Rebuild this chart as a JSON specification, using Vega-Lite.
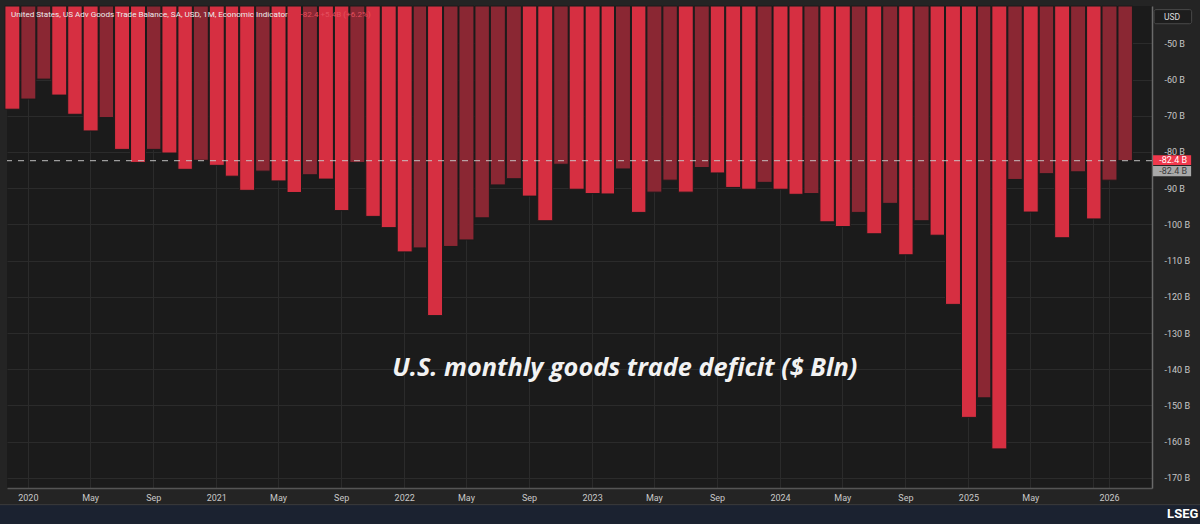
{
  "$schema": "https://vega.github.io/schema/vega-lite/v6.json",
  "width": 1145,
  "height": 482,
  "autosize": {"type": "none"},
  "padding": {"left": 7, "top": 6, "right": 48, "bottom": 36},
  "background": "#242424",
  "config": {
    "view": {"fill": "#1b1b1b", "stroke": null},
    "font": "Roboto"
  },
  "datasets": {
    "trade": [
      {"month": "2019-12-01", "value": -68.2, "dir": "wider"},
      {"month": "2020-01-01", "value": -65.4, "dir": "narrower"},
      {"month": "2020-02-01", "value": -59.9, "dir": "narrower"},
      {"month": "2020-03-01", "value": -64.3, "dir": "wider"},
      {"month": "2020-04-01", "value": -69.6, "dir": "wider"},
      {"month": "2020-05-01", "value": -74.2, "dir": "wider"},
      {"month": "2020-06-01", "value": -70.5, "dir": "narrower"},
      {"month": "2020-07-01", "value": -79.3, "dir": "wider"},
      {"month": "2020-08-01", "value": -82.9, "dir": "wider"},
      {"month": "2020-09-01", "value": -79.3, "dir": "narrower"},
      {"month": "2020-10-01", "value": -80.3, "dir": "wider"},
      {"month": "2020-11-01", "value": -84.8, "dir": "wider"},
      {"month": "2020-12-01", "value": -82.3, "dir": "narrower"},
      {"month": "2021-01-01", "value": -83.7, "dir": "wider"},
      {"month": "2021-02-01", "value": -86.7, "dir": "wider"},
      {"month": "2021-03-01", "value": -90.6, "dir": "wider"},
      {"month": "2021-04-01", "value": -85.3, "dir": "narrower"},
      {"month": "2021-05-01", "value": -88.0, "dir": "wider"},
      {"month": "2021-06-01", "value": -91.2, "dir": "wider"},
      {"month": "2021-07-01", "value": -86.3, "dir": "narrower"},
      {"month": "2021-08-01", "value": -87.5, "dir": "wider"},
      {"month": "2021-09-01", "value": -96.2, "dir": "wider"},
      {"month": "2021-10-01", "value": -82.9, "dir": "narrower"},
      {"month": "2021-11-01", "value": -97.8, "dir": "wider"},
      {"month": "2021-12-01", "value": -100.9, "dir": "wider"},
      {"month": "2022-01-01", "value": -107.6, "dir": "wider"},
      {"month": "2022-02-01", "value": -106.5, "dir": "narrower"},
      {"month": "2022-03-01", "value": -125.2, "dir": "wider"},
      {"month": "2022-04-01", "value": -106.1, "dir": "narrower"},
      {"month": "2022-05-01", "value": -104.3, "dir": "narrower"},
      {"month": "2022-06-01", "value": -98.2, "dir": "narrower"},
      {"month": "2022-07-01", "value": -89.1, "dir": "narrower"},
      {"month": "2022-08-01", "value": -87.4, "dir": "narrower"},
      {"month": "2022-09-01", "value": -92.2, "dir": "wider"},
      {"month": "2022-10-01", "value": -99.0, "dir": "wider"},
      {"month": "2022-11-01", "value": -83.4, "dir": "narrower"},
      {"month": "2022-12-01", "value": -90.3, "dir": "wider"},
      {"month": "2023-01-01", "value": -91.5, "dir": "wider"},
      {"month": "2023-02-01", "value": -91.6, "dir": "wider"},
      {"month": "2023-03-01", "value": -84.7, "dir": "narrower"},
      {"month": "2023-04-01", "value": -96.7, "dir": "wider"},
      {"month": "2023-05-01", "value": -91.1, "dir": "narrower"},
      {"month": "2023-06-01", "value": -87.8, "dir": "narrower"},
      {"month": "2023-07-01", "value": -91.1, "dir": "wider"},
      {"month": "2023-08-01", "value": -84.3, "dir": "narrower"},
      {"month": "2023-09-01", "value": -85.8, "dir": "wider"},
      {"month": "2023-10-01", "value": -89.8, "dir": "wider"},
      {"month": "2023-11-01", "value": -90.3, "dir": "wider"},
      {"month": "2023-12-01", "value": -88.4, "dir": "narrower"},
      {"month": "2024-01-01", "value": -90.3, "dir": "wider"},
      {"month": "2024-02-01", "value": -91.7, "dir": "wider"},
      {"month": "2024-03-01", "value": -91.5, "dir": "narrower"},
      {"month": "2024-04-01", "value": -99.3, "dir": "wider"},
      {"month": "2024-05-01", "value": -100.6, "dir": "wider"},
      {"month": "2024-06-01", "value": -96.7, "dir": "narrower"},
      {"month": "2024-07-01", "value": -102.6, "dir": "wider"},
      {"month": "2024-08-01", "value": -94.2, "dir": "narrower"},
      {"month": "2024-09-01", "value": -108.4, "dir": "wider"},
      {"month": "2024-10-01", "value": -99.0, "dir": "narrower"},
      {"month": "2024-11-01", "value": -103.0, "dir": "wider"},
      {"month": "2024-12-01", "value": -122.1, "dir": "wider"},
      {"month": "2025-01-01", "value": -153.3, "dir": "wider"},
      {"month": "2025-02-01", "value": -147.9, "dir": "narrower"},
      {"month": "2025-03-01", "value": -162.0, "dir": "wider"},
      {"month": "2025-04-01", "value": -87.6, "dir": "narrower"},
      {"month": "2025-05-01", "value": -96.6, "dir": "wider"},
      {"month": "2025-06-01", "value": -86.0, "dir": "narrower"},
      {"month": "2025-07-01", "value": -103.7, "dir": "wider"},
      {"month": "2025-08-01", "value": -85.5, "dir": "narrower"},
      {"month": "2025-09-01", "value": -98.5, "dir": "wider"},
      {"month": "2025-10-01", "value": -87.8, "dir": "narrower"},
      {"month": "2025-11-01", "value": -82.4, "dir": "narrower"}
    ],
    "level": [{"value": -82.4}],
    "lastbox": [{"start": "2026-01-10", "end": "2026-03-25", "lo": -83.6, "hi": -80.9}],
    "prevbox": [{"start": "2026-01-10", "end": "2026-03-25", "lo": -86.7, "hi": -83.9}],
    "lastlabel": [{"at": "2026-02-18", "value": -82.25, "label": "-82.4 B"}],
    "prevlabel": [{"at": "2026-02-18", "value": -85.3, "label": "-82.4 B"}],
    "unitbox": [{"start": "2026-01-12", "end": "2026-03-26", "lo": -44.6, "hi": -40.7}],
    "unitlabel": [{"at": "2026-02-16", "value": -42.65, "label": "USD"}],
    "footer": [{"start": "2019-11-15", "end": "2026-04-20", "lo": -184.0, "hi": -177.4}],
    "brand": [{"at": "2026-04-08", "value": -180.1, "label": "LSEG"}],
    "seriesname": [{"at": "2019-12-15", "value": -42.3, "label": "United States, US Adv Goods Trade Balance, SA, USD, 1M, Economic Indicator"}],
    "seriesvalue": [{"at": "2021-06-29", "value": -42.3, "label": "-82.4  +5.4B (+6.2%)"}],
    "note": [{"at": "2023-03-21", "value": -139.7, "label": "U.S. monthly goods trade deficit ($ Bln)"}]
  },
  "layer": [
    {
      "data": {"name": "trade"},
      "mark": {"type": "bar", "stroke": "#1b1b1b", "strokeWidth": 1},
      "encoding": {
        "x": {
          "field": "month",
          "type": "temporal",
          "timeUnit": "utcyearmonth",
          "scale": {
            "type": "utc",
            "domain": [
              {"year": 2019, "month": 12, "date": 7, "utc": true},
              {"year": 2026, "month": 1, "date": 8, "utc": true}
            ]
          },
          "axis": {
            "title": null,
            "values": [
              {"year": 2020, "month": 1, "date": 16, "hours": 12, "utc": true},
              {"year": 2020, "month": 5, "date": 16, "hours": 12, "utc": true},
              {"year": 2020, "month": 9, "date": 16, "utc": true},
              {"year": 2021, "month": 1, "date": 16, "hours": 12, "utc": true},
              {"year": 2021, "month": 5, "date": 16, "hours": 12, "utc": true},
              {"year": 2021, "month": 9, "date": 16, "utc": true},
              {"year": 2022, "month": 1, "date": 16, "hours": 12, "utc": true},
              {"year": 2022, "month": 5, "date": 16, "hours": 12, "utc": true},
              {"year": 2022, "month": 9, "date": 16, "utc": true},
              {"year": 2023, "month": 1, "date": 16, "hours": 12, "utc": true},
              {"year": 2023, "month": 5, "date": 16, "hours": 12, "utc": true},
              {"year": 2023, "month": 9, "date": 16, "utc": true},
              {"year": 2024, "month": 1, "date": 16, "hours": 12, "utc": true},
              {"year": 2024, "month": 5, "date": 16, "hours": 12, "utc": true},
              {"year": 2024, "month": 9, "date": 16, "utc": true},
              {"year": 2025, "month": 1, "date": 16, "hours": 12, "utc": true},
              {"year": 2025, "month": 5, "date": 16, "hours": 12, "utc": true},
              {"year": 2025, "month": 9, "date": 16, "utc": true},
              {"year": 2025, "month": 10, "date": 16, "hours": 12, "utc": true}
            ],
            "labelExpr": "utcmonth(datum.value) == 0 ? utcFormat(datum.value, '%Y') : (utcmonth(datum.value) == 9 ? '2026' : ((utcmonth(datum.value) == 8 && utcyear(datum.value) == 2025) ? '' : utcFormat(datum.value, '%b')))",
            "grid": true,
            "gridColor": "#2b2b2b",
            "gridWidth": 1,
            "ticks": false,
            "domainColor": "#555555",
            "domainWidth": 1.5,
            "labelColor": "#c8c8c8",
            "labelFont": "Roboto",
            "labelFontSize": 9,
            "labelPadding": 5,
            "labelOverlap": false,
            "labelFlush": false
          }
        },
        "y": {
          "field": "value",
          "type": "quantitative",
          "scale": {"domain": [-172.8, -39.7], "nice": false, "zero": false},
          "axis": {
            "orient": "right",
            "title": null,
            "values": [-50, -60, -70, -80, -90, -100, -110, -120, -130, -140, -150, -160, -170],
            "labelExpr": "datum.value + ' B'",
            "grid": true,
            "gridColor": "#2b2b2b",
            "ticks": false,
            "domainColor": "#6a6a6a",
            "domainWidth": 1.5,
            "labelColor": "#c8c8c8",
            "labelFont": "Roboto",
            "labelFontSize": 9,
            "labelPadding": 12
          }
        },
        "y2": {"datum": -39.7},
        "color": {
          "field": "dir",
          "type": "nominal",
          "scale": {"domain": ["wider", "narrower"], "range": ["#d62f41", "#8a2733"]},
          "legend": null
        }
      }
    },
    {
      "data": {"name": "level"},
      "mark": {"type": "rule", "color": "#c9c9c9", "opacity": 0.75, "strokeDash": [6, 6], "strokeWidth": 1.3},
      "encoding": {"y": {"field": "value", "type": "quantitative"}}
    },
    {
      "data": {"name": "seriesname"},
      "mark": {"type": "text", "align": "left", "baseline": "middle", "font": "Roboto", "fontSize": 8.1, "color": "#ececec"},
      "encoding": {
        "x": {"field": "at", "type": "temporal"},
        "y": {"field": "value", "type": "quantitative"},
        "text": {"field": "label"}
      }
    },
    {
      "data": {"name": "seriesvalue"},
      "mark": {"type": "text", "align": "left", "baseline": "middle", "font": "Roboto", "fontSize": 8.1, "color": "#e4505f"},
      "encoding": {
        "x": {"field": "at", "type": "temporal"},
        "y": {"field": "value", "type": "quantitative"},
        "text": {"field": "label"}
      }
    },
    {
      "data": {"name": "note"},
      "mark": {"type": "text", "align": "center", "baseline": "middle", "font": "Open Sans", "fontSize": 25.3, "fontWeight": "bold", "fontStyle": "italic", "color": "#f2f2f2"},
      "encoding": {
        "x": {"field": "at", "type": "temporal"},
        "y": {"field": "value", "type": "quantitative"},
        "text": {"field": "label"}
      }
    },
    {
      "data": {"name": "unitbox"},
      "mark": {"type": "rect", "fill": "#1d1d1d", "stroke": "#4a4a4a", "strokeWidth": 1, "cornerRadius": 2},
      "encoding": {
        "x": {"field": "start", "type": "temporal"},
        "x2": {"field": "end"},
        "y": {"field": "lo", "type": "quantitative"},
        "y2": {"field": "hi"}
      }
    },
    {
      "data": {"name": "unitlabel"},
      "mark": {"type": "text", "align": "center", "baseline": "middle", "font": "Roboto", "fontSize": 8.5, "color": "#dddddd"},
      "encoding": {
        "x": {"field": "at", "type": "temporal"},
        "y": {"field": "value", "type": "quantitative"},
        "text": {"field": "label"}
      }
    },
    {
      "data": {"name": "lastbox"},
      "mark": {"type": "rect", "fill": "#f0384c"},
      "encoding": {
        "x": {"field": "start", "type": "temporal"},
        "x2": {"field": "end"},
        "y": {"field": "lo", "type": "quantitative"},
        "y2": {"field": "hi"}
      }
    },
    {
      "data": {"name": "prevbox"},
      "mark": {"type": "rect", "fill": "#a9a9a9"},
      "encoding": {
        "x": {"field": "start", "type": "temporal"},
        "x2": {"field": "end"},
        "y": {"field": "lo", "type": "quantitative"},
        "y2": {"field": "hi"}
      }
    },
    {
      "data": {"name": "lastlabel"},
      "mark": {"type": "text", "align": "center", "baseline": "middle", "font": "Roboto", "fontSize": 9, "color": "#ffffff"},
      "encoding": {
        "x": {"field": "at", "type": "temporal"},
        "y": {"field": "value", "type": "quantitative"},
        "text": {"field": "label"}
      }
    },
    {
      "data": {"name": "prevlabel"},
      "mark": {"type": "text", "align": "center", "baseline": "middle", "font": "Roboto", "fontSize": 9, "color": "#3a3a3a"},
      "encoding": {
        "x": {"field": "at", "type": "temporal"},
        "y": {"field": "value", "type": "quantitative"},
        "text": {"field": "label"}
      }
    },
    {
      "data": {"name": "footer"},
      "mark": {"type": "rect", "fill": "#1b2230", "stroke": "#3c3c3c", "strokeWidth": 1},
      "encoding": {
        "x": {"field": "start", "type": "temporal"},
        "x2": {"field": "end"},
        "y": {"field": "lo", "type": "quantitative"},
        "y2": {"field": "hi"}
      }
    },
    {
      "data": {"name": "brand"},
      "mark": {"type": "text", "align": "right", "baseline": "middle", "font": "Roboto", "fontSize": 13, "fontWeight": "bold", "color": "#ffffff"},
      "encoding": {
        "x": {"field": "at", "type": "temporal"},
        "y": {"field": "value", "type": "quantitative"},
        "text": {"field": "label"}
      }
    }
  ]
}
